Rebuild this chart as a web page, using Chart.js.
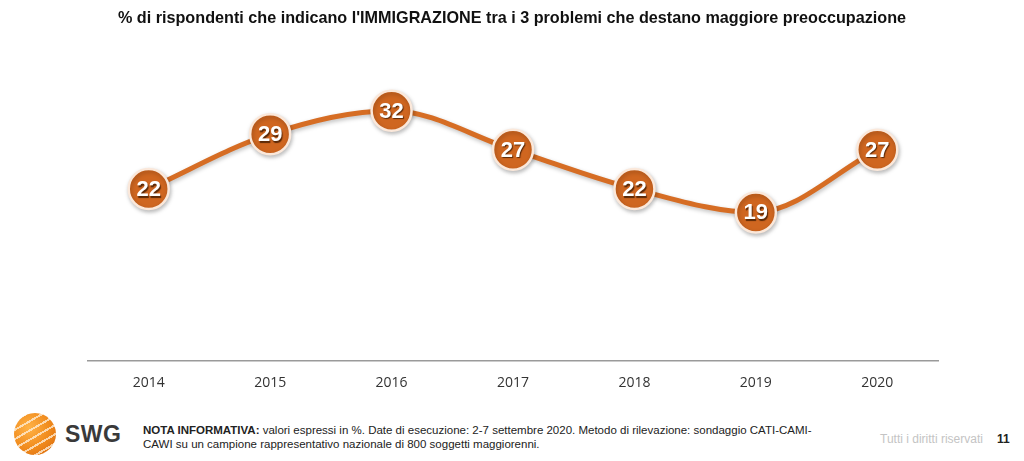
<!DOCTYPE html>
<html>
<head>
<meta charset="utf-8">
<script src="https://cdn.jsdelivr.net/npm/chart.js@4.4.0/dist/chart.umd.min.js"></script>
<style>
  html, body { margin: 0; padding: 0; background: #fff; }
  body { width: 1024px; height: 461px; position: relative; overflow: hidden; font-family: "Liberation Sans", Arial, sans-serif; }
  .title { position: absolute; top: 8px; left: 0; width: 1024px; text-align: center; font-weight: bold; font-size: 16.2px; color: #111; }
  .chart-box { position: absolute; left: 0; top: 0; width: 1024px; height: 413px; }
  .logo { position: absolute; left: 14px; top: 413px; width: 42px; height: 42px; border-radius: 50%;
    background: repeating-linear-gradient(150deg, rgba(255,255,255,0) 0 6px, rgba(255,240,220,0.75) 6px 8px),
                radial-gradient(circle at 35% 35%, #ffb347, #f08a1c 55%, #d4640c); }
  .swg { position: absolute; left: 65px; top: 421px; font-weight: bold; font-size: 23px; color: #3a3a3a; letter-spacing: 0.5px; }
  .note { position: absolute; left: 143px; top: 423px; font-size: 11.5px; line-height: 14px; color: #222; width: 720px; }
  .rights { position: absolute; left: 880px; top: 432px; font-size: 12px; color: #c4c4c4; }
  .page { position: absolute; left: 997px; top: 432px; font-size: 12px; font-weight: bold; color: #222; }
</style>
</head>
<body>
<div class="chart-box"><canvas id="lineChart"></canvas></div>
<div class="title">% di rispondenti che indicano l'IMMIGRAZIONE tra i 3 problemi che destano maggiore preoccupazione</div>
<div class="logo"></div>
<div class="swg">SWG</div>
<div class="note"><b>NOTA INFORMATIVA:</b> valori espressi in %. Date di esecuzione: 2-7 settembre 2020. Metodo di rilevazione: sondaggio CATI-CAMI-<br>CAWI su un campione rappresentativo nazionale di 800 soggetti maggiorenni.</div>
<div class="rights">Tutti i diritti riservati</div>
<div class="page">11</div>

<script>
  // data
  var years = ["2014", "2015", "2016", "2017", "2018", "2019", "2020"];
  var immigrazione = [22, 29, 32, 27, 22, 19, 27];

  // write the value inside each bubble
  var bubbleLabels = {
    id: 'bubbleLabels',
    afterDatasetsDraw: function (chart) {
      var ctx = chart.ctx;
      var meta = chart.getDatasetMeta(0);
      ctx.save();
      ctx.font = 'bold 22px "Liberation Sans", Arial, sans-serif';
      ctx.textAlign = 'center';
      ctx.textBaseline = 'middle';
      ctx.shadowColor = 'rgba(60,25,0,0.8)';
      ctx.shadowOffsetX = 1;
      ctx.shadowOffsetY = 1.5;
      ctx.shadowBlur = 1;
      ctx.fillStyle = '#fff';
      meta.data.forEach(function (pt, i) {
        ctx.fillText(String(immigrazione[i]), pt.x, pt.y + 1);
      });
      ctx.restore();
    }
  };

  // soft shadow under line and bubbles
  var softShadow = {
    id: 'softShadow',
    beforeDatasetsDraw: function (chart) {
      var ctx = chart.ctx;
      ctx.save();
      ctx.shadowColor = 'rgba(0,0,0,0.25)';
      ctx.shadowBlur = 4;
      ctx.shadowOffsetX = 1;
      ctx.shadowOffsetY = 2;
    },
    afterDatasetsDraw: function (chart) {
      chart.ctx.restore();
    }
  };

  new Chart(document.getElementById('lineChart'), {
    type: 'line',
    data: {
      labels: years,
      datasets: [{
        data: immigrazione,
        borderColor: '#d66d24',
        borderWidth: 5,
        tension: 0.4,
        cubicInterpolationMode: 'monotone',
        pointRadius: 20,
        pointHoverRadius: 20,
        pointBackgroundColor: '#cf6620',
        pointBorderColor: '#fbe8da',
        pointBorderWidth: 2.5,
        clip: false
      }]
    },
    options: {
      responsive: true,
      maintainAspectRatio: false,
      animation: false,
      layout: { padding: { left: 88, right: 86, top: 48, bottom: 9 } },
      plugins: {
        legend: { display: false },
        tooltip: { enabled: false }
      },
      scales: {
        x: {
          offset: true,
          grid: { display: false, drawTicks: false },
          border: { display: true, color: '#9a9a9a', width: 1.5 },
          ticks: {
            padding: 13,
            color: '#333',
            font: { family: '"Open Sans", sans-serif', size: 14 }
          }
        },
        y: {
          display: false,
          min: 0,
          max: 40
        }
      }
    },
    plugins: [softShadow, bubbleLabels]
  });
</script>
</body>
</html>
